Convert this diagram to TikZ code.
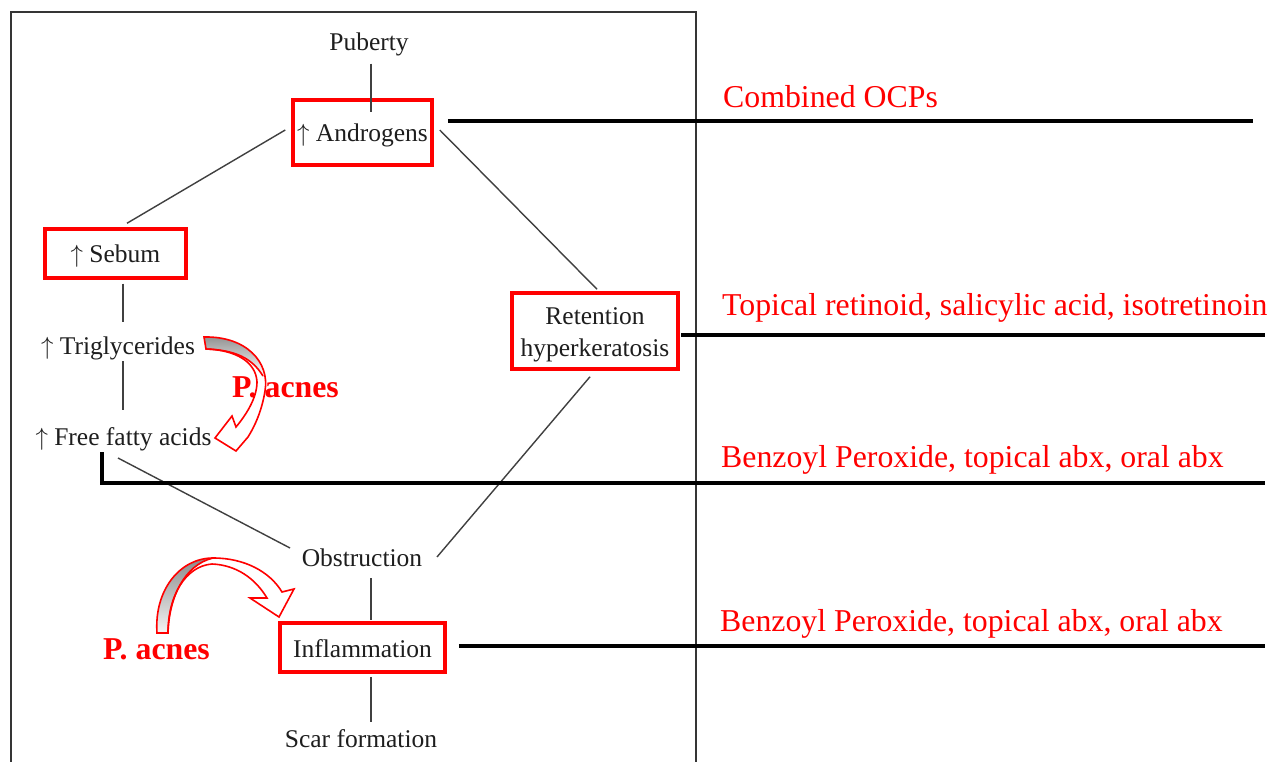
\documentclass[tikz,border=0pt]{standalone}
\usepackage{fontspec}
\setmainfont{Liberation Serif}
\usetikzlibrary{calc}
\definecolor{pred}{RGB}{255,0,0}
\definecolor{ink}{RGB}{30,30,30}
\definecolor{shade}{RGB}{205,205,205}
\begin{document}
\begin{tikzpicture}[x=1pt,y=-1pt,
  lbl/.style={font=\fontsize{25.5}{32}\selectfont, text=ink, inner sep=0pt},
  redbox/.style={lbl, draw=pred, line width=3.5pt, inner sep=0pt},
  onebox/.style={redbox, text height=22pt, text depth=3pt},
  link/.style={draw=ink!85, line width=1.4pt},
  bar/.style={draw=black, line width=3.2pt},
  frame/.style={draw=ink!90, line width=2.2pt},
  note/.style={font=\fontsize{31.8}{36}\selectfont, text=pred, inner sep=0pt, anchor=base west},
  bug/.style={font=\fontsize{31.8}{36}\selectfont\bfseries, text=pred, inner sep=0pt, anchor=base west},
  arrowline/.style={draw=pred, line width=1.6pt, line join=miter},
  ]
\useasboundingbox (0,0) rectangle (1275,762);
\fill[white] (0,0) rectangle (1275,762);

% frame
\draw[frame] (11,762) -- (11,12) -- (696,12) -- (696,762);

% nodes
\node[lbl, anchor=base] (pub) at (369,51) {Puberty};
\node[onebox, minimum width=139pt, minimum height=65pt] (andr) at (362.5,132.5) {$\uparrow$ Androgens};
\node[onebox, minimum width=141pt, minimum height=49pt] (seb) at (115.5,253.5) {$\uparrow$ Sebum};
\node[lbl, anchor=base] (tri) at (118,354) {$\uparrow$ Triglycerides};
\node[lbl, anchor=base] (ffa) at (123.5,445) {$\uparrow$ Free fatty acids};
\node[redbox, minimum width=166pt, minimum height=76pt, align=center] (ret) at (595,331) {\rule{0pt}{24pt}Retention\\hyperkeratosis};
\node[lbl, anchor=base] (obs) at (362,566) {Obstruction};
\node[onebox, minimum width=165pt, minimum height=49pt] (inf) at (362.5,647.5) {Inflammation};
\node[lbl, anchor=base] (scar) at (361,747) {Scar formation};

% thin connectors
\draw[link] ($(pub.south)+(2,7)$) -- ($(andr.north)+(8.5,14)$);
\draw[link] ($(andr.west)+(-6,-2.5)$) -- ($(seb.north)+(11.5,-4)$);
\draw[link] ($(andr.east)+(6,-2.5)$) -- ($(ret.north)+(2,-2)$);
\draw[link] ($(seb.south)+(7.5,4)$) -- ($(tri.base)+(5,-32)$);
\draw[link] ($(tri.base)+(5,7)$) -- ($(ffa.base)+(-0.5,-35)$);
\draw[link] ($(ffa.base)+(-5.5,13)$) -- ($(obs.base)+(-72,-18)$);
\draw[link] ($(obs.base)+(75,-9)$) -- ($(ret.south)+(-5,6)$);
\draw[link] ($(obs.base)+(9,12)$) -- ($(inf.north)+(8.5,-1)$);
\draw[link] ($(inf.south)+(8.5,3)$) -- ($(scar.base)+(10,-25)$);

% thick bars
\coordinate (e1) at (1253,121);
\coordinate (e2) at (1265,335);
\coordinate (e3) at (1265,483);
\coordinate (e4) at (1265,646);
\draw[bar] ($(andr.east)+(14,-11.5)$) -- (e1);
\draw[bar] ($(ret.east)+(1.5,4)$) -- (e2);
\draw[bar] ($(ffa.base)+(-21.5,7)$) |- (e3);
\draw[bar] ($(inf.east)+(12,-1.5)$) -- (e4);

% curved block arrow 1
\def\arrowA{(204,337) .. controls (246,336) and (270,362) .. (265,391) .. controls (262,410) and (255,426) .. (248,437) -- (236,451) -- (215,438) -- (232,416) -- (236,427) .. controls (246,415) and (257,398) .. (257,382) .. controls (256,362) and (236,350) .. (206,349) -- cycle}
\fill[white] \arrowA;
\begin{scope}
  \clip \arrowA;
  \fill[shade] (206,349) .. controls (235,350) and (252,358) .. (263,376) -- (275,376) -- (275,330) -- (198,330) -- (198,349) -- cycle;
\end{scope}
\draw[arrowline] (206,349) .. controls (235,350) and (252,358) .. (263,376);
\draw[arrowline] \arrowA;

% curved block arrow 2
\def\arrowB{(157,633) .. controls (154,590) and (180,558) .. (213,558) .. controls (245,558) and (270,572) .. (282,592) -- (294,589) -- (279,617) -- (250,598) -- (267,598) .. controls (255,578) and (236,565) .. (212,564) .. controls (186,566) and (168,595) .. (168,633) -- cycle}
\fill[white] \arrowB;
\begin{scope}
  \clip \arrowB;
  \fill[shade] (168,633) .. controls (169,598) and (184,565) .. (213,558) -- (213,550) -- (150,550) -- (150,640) -- (168,640) -- cycle;
\end{scope}
\draw[arrowline] (168,633) .. controls (169,598) and (184,565) .. (213,558);
\draw[arrowline] \arrowB;

% red labels
\node[note] (n1) at (723,108) {Combined OCPs};
\node[note] (n2) at (722,316) {Topical retinoid, salicylic acid, isotretinoin};
\node[note] (n3) at (721,467) {Benzoyl Peroxide, topical abx, oral abx};
\node[note] (n4) at (720,631) {Benzoyl Peroxide, topical abx, oral abx};
\node[bug] (pa1) at (232,397) {P. acnes};
\node[bug] (pa2) at (103,659) {P. acnes};
\end{tikzpicture}
\end{document}
